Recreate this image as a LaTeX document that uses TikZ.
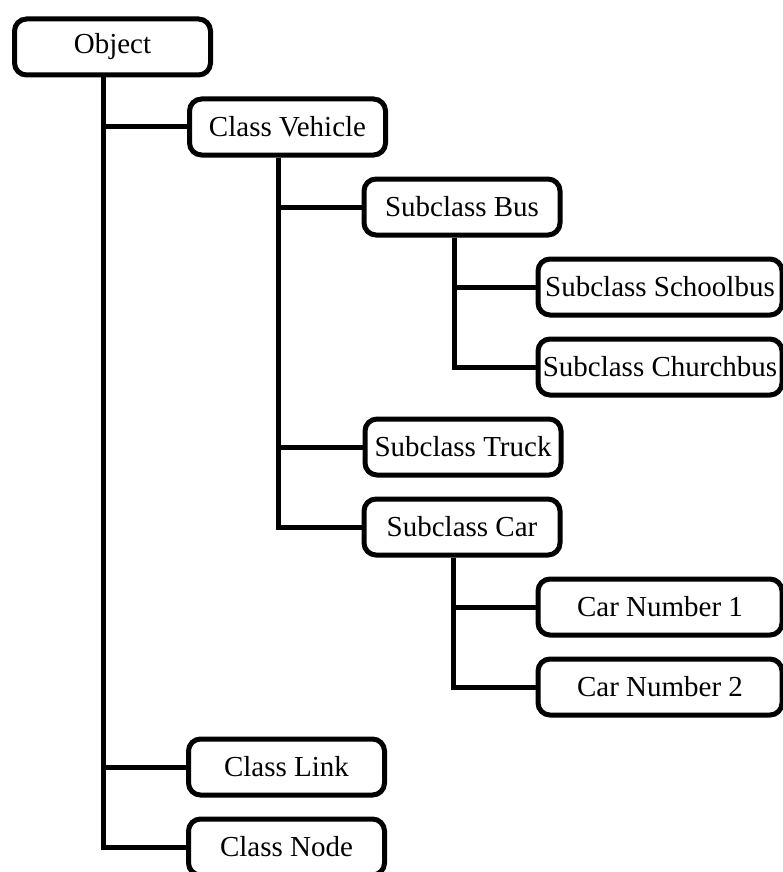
\documentclass[tikz,border=0pt]{standalone}
\usepackage{fontspec}
\setmainfont{Liberation Serif}
\usetikzlibrary{calc}
\begin{document}
\begin{tikzpicture}[x=1pt,y=-1pt,
  box/.style={draw, line width=5pt, rounded corners=12pt, minimum width=196pt,
    minimum height=56pt, inner sep=0pt, fill=white, font=\fontsize{29}{34}\selectfont},
  leafbox/.style={box, minimum width=244pt},
  link/.style={line width=5pt}]
\useasboundingbox (0,0) rectangle (783,872);
% nodes
\node[box] (obj) at (112.5,47) {Object};
\node[box] (veh) at (287.5,127) {Class Vehicle};
\node[box] (bus) at (462,207) {Subclass Bus};
\node[leafbox] (school) at (660,287) {Subclass Schoolbus};
\node[leafbox] (church) at (660,367) {Subclass Churchbus};
\node[box] (truck) at (463,447) {Subclass Truck};
\node[box] (car) at (462,527) {Subclass Car};
\node[leafbox] (cn1) at (660,607) {Car Number 1};
\node[leafbox] (cn2) at (660,687) {Car Number 2};
\node[box] (clink) at (286.5,767) {Class Link};
\node[box] (cnode) at (286.5,847) {Class Node};
% connectors
\draw[link] ([xshift=-9.5pt]obj.south) |- (veh.west);
\draw[link] ([xshift=-9.5pt]obj.south) |- (clink.west);
\draw[link] ([xshift=-9.5pt]obj.south) |- (cnode.west);
\draw[link] ([xshift=-9.5pt]veh.south) |- (bus.west);
\draw[link] ([xshift=-9.5pt]veh.south) |- (truck.west);
\draw[link] ([xshift=-9.5pt]veh.south) |- (car.west);
\draw[link] ([xshift=-8pt]bus.south) |- (school.west);
\draw[link] ([xshift=-8pt]bus.south) |- (church.west);
\draw[link] ([xshift=-9pt]car.south) |- (cn1.west);
\draw[link] ([xshift=-9pt]car.south) |- (cn2.west);
\end{tikzpicture}
\end{document}
